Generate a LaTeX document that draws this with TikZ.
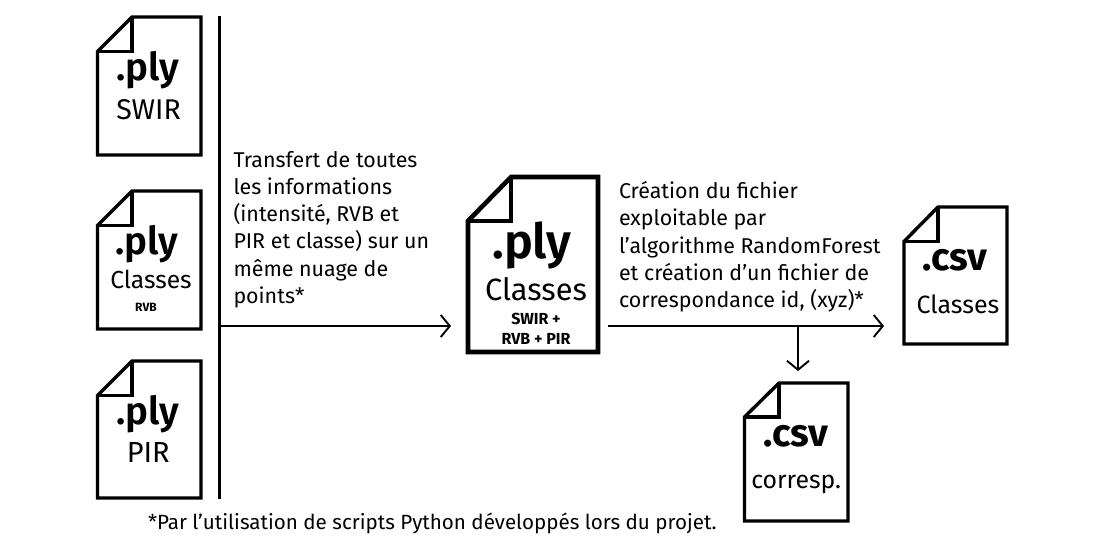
\documentclass[tikz,border=0pt]{standalone}
\usepackage{fontspec}
\setmainfont{Fira Sans}
\newfontfamily\medfont{Fira Sans SemiBold}
\usetikzlibrary{arrows.meta}
\tikzset{
  x=1pt,y=-1pt,
  lbl/.style={inner sep=0pt,outer sep=0pt,align=center,text=black,anchor=base},
  note/.style={inner sep=0pt,outer sep=0pt,align=left,anchor=north west,text=black,font=\fontsize{21.4}{27.3}\selectfont},
  link/.style={line width=1.9pt,-{Straight Barb[length=9pt,width=22pt,line width=1.9pt]}},
  ext/.style={font=\medfont\fontsize{38.5}{38.5}\selectfont},
  extbig/.style={font=\medfont\fontsize{48.5}{48.5}\selectfont},
  extcsv/.style={font=\bfseries\fontsize{38.6}{40}\selectfont},
  sub/.style={font=\fontsize{#1}{#1}\selectfont},
  tiny/.style={font=\bfseries\fontsize{#1}{20}\selectfont},
  filebox/.style={inner sep=0pt,outer sep=0pt,draw=none},
}
\newcommand{\filedoc}[8]{%
  \node[filebox,minimum width=#4pt-#2pt,minimum height=#5pt-#3pt,anchor=north west] (#1) at (#2,#3) {};
  \draw[line width=#8pt,line join=miter] (#6,#3) -- (#4,#3) -- (#4,#5) -- (#2,#5) -- (#2,#7) -- cycle;
  \draw[line width=#8pt,line join=miter] (#6,#3) -- (#6,#7) -- (#2,#7);
}
\begin{document}
\begin{tikzpicture}
\useasboundingbox (0,0) rectangle (1114,547);
\filedoc{f1}{97.5}{17}{201}{155}{132}{51.5}{3.4}
\filedoc{f2}{97.5}{191}{201}{329}{132}{225.5}{3.4}
\filedoc{f3}{97.5}{361}{201}{498}{132}{395.5}{3.4}
\filedoc{f4}{468}{177}{598}{352}{511}{221}{4.6}
\filedoc{f5}{904}{207}{1007}{344}{938}{241.5}{3.4}
\filedoc{f6}{744.5}{383}{848}{521}{779}{417}{3.4}

\node[lbl,ext] (t1a) at (147.5,80) {.ply};
\node[lbl,sub=28.5] (t1b) at (148.5,119.5) {SWIR};
\node[lbl,ext] (t2a) at (147,254) {.ply};
\node[lbl,sub=24.6] (t2b) at (151,288) {Classes};
\node[lbl,tiny=12] (t2c) at (146,311) {RVB};
\node[lbl,ext] (t3a) at (147.7,424) {.ply};
\node[lbl,sub=29] (t3b) at (148.3,462) {PIR};
\node[lbl,extbig] (t4a) at (532,258) {.ply};
\node[lbl,sub=30.8] (t4b) at (536,300) {Classes};
\node[lbl,tiny=16] (t4c) at (536,344) {SWIR +\\RVB + PIR};
\node[lbl,extcsv] (t5a) at (955,270) {.csv};
\node[lbl,sub=25] (t5b) at (958,313) {Classes};
\node[lbl,extcsv] (t6a) at (795.7,446) {.csv};
\node[lbl,sub=24.8] (t6b) at (796.2,488) {corresp.};

\node[note] (n1) at (233.5,151) {Transfert de toutes\\les informations\\(intensité, RVB et\\PIR et classe) sur un\\même nuage de\\points*};
\node[note] (n2) at (619,181.5) {Création du fichier\\exploitable par\\l’algorithme RandomForest\\et création d’un fichier de\\correspondance id, (xyz)*};
\node[note,font=\fontsize{20.6}{24}\selectfont] (n3) at (148,513) {*Par l’utilisation de scripts Python développés lors du projet.};

\coordinate (bustop) at (219,16);
\coordinate (busbot) at (219,499);
\coordinate (busmid) at (219,326);
\coordinate (outstart) at (608,326);
\coordinate (branch) at (798,326);
\draw[line width=3pt] (bustop) -- (busbot);
\draw[link,shorten >=17pt] (busmid) -- (f4.west |- busmid);
\draw[link,shorten >=20pt] (outstart) -- (f5.west |- outstart);
\draw[link,shorten >=12pt] (branch) -- (branch |- f6.north);
\end{tikzpicture}
\end{document}
